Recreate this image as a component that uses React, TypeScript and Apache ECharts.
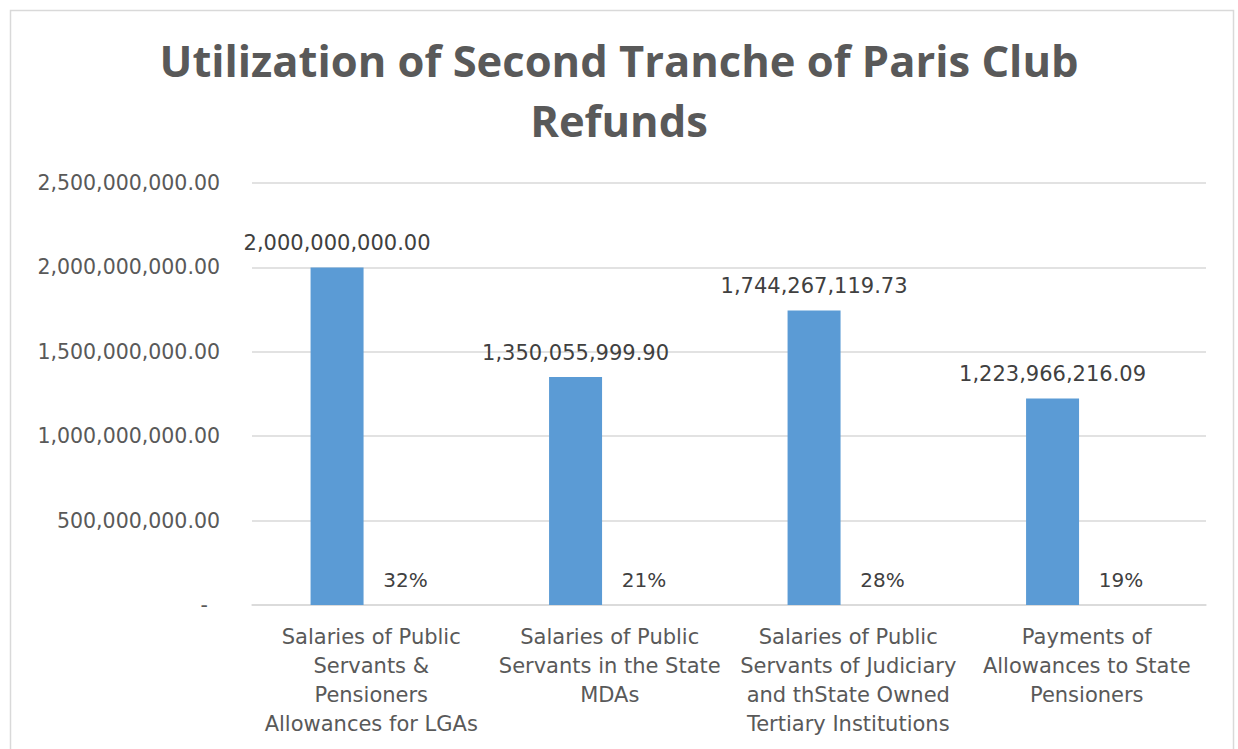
import React, { useEffect, useRef } from "react";
import * as echarts from "echarts";

const categories = [
  "Salaries of Public\nServants &\nPensioners\nAllowances for LGAs",
  "Salaries of Public\nServants in the State\nMDAs",
  "Salaries of Public\nServants of Judiciary\nand thState Owned\nTertiary Institutions",
  "Payments of\nAllowances to State\nPensioners",
];
const amounts = [2000000000.0, 1350055999.9, 1744267119.73, 1223966216.09];
const shares = [0.32, 0.21, 0.28, 0.19];
const titleText = "Utilization of Second Tranche of Paris Club\nRefunds";

const FONT = "DejaVu Sans";

function fmt(v: number): string {
  return v.toLocaleString("en-US", { minimumFractionDigits: 2, maximumFractionDigits: 2 });
}

export default function App() {
  const ref = useRef<HTMLDivElement>(null);
  useEffect(() => {
    document.body.style.margin = "0";
    const chart = echarts.init(ref.current!, null, { renderer: "svg" });
    chart.setOption({
      animation: false,
      backgroundColor: "#ffffff",
      title: {
        text: titleText,
        left: "center",
        top: 25,
        textStyle: {
          fontFamily: "Open Sans",
          fontWeight: "bold",
          fontSize: 43.5,
          lineHeight: 60,
          color: "#595959",
        },
      },
      graphic: [
        {
          type: "rect",
          shape: { x: 10.5, y: 10.5, width: 1223, height: 760 },
          style: { fill: "none", stroke: "#d9d9d9", lineWidth: 1.5 },
          silent: true,
        },
      ],
      grid: { left: 252, right: 32, top: 183, bottom: 144 },
      xAxis: {
        type: "category",
        data: categories,
        axisLine: { show: true, lineStyle: { color: "#d9d9d9", width: 1.5 } },
        axisTick: { show: false },
        axisLabel: {
          interval: 0,
          margin: 17,
          fontFamily: FONT,
          fontSize: 21,
          lineHeight: 29,
          color: "#595959",
        },
      },
      yAxis: {
        type: "value",
        min: 0,
        max: 2500000000,
        interval: 500000000,
        axisLine: { show: false },
        axisTick: { show: false },
        splitLine: { lineStyle: { color: "#d9d9d9", width: 1.5 } },
        axisLabel: {
          margin: 32,
          fontFamily: FONT,
          fontSize: 20.5,
          color: "#595959",
          formatter: (v: number) => (v === 0 ? "{z|-}" : fmt(v)),
          rich: { z: { padding: [0, 12, 0, 0], fontFamily: FONT, fontSize: 20.5, color: "#595959" } },
        },
      },
      series: [
        {
          type: "bar",
          data: amounts,
          barWidth: 53,
          barGap: "29%",
          itemStyle: { color: "#5b9bd5" },
          label: {
            show: true,
            position: "top",
            distance: 14,
            fontFamily: FONT,
            fontSize: 21,
            color: "#404040",
            formatter: (p: any) => fmt(p.value),
          },
        },
        {
          type: "bar",
          data: shares,
          barWidth: 53,
          itemStyle: { color: "#ed7d31" },
          label: {
            show: true,
            position: "top",
            distance: 15,
            fontFamily: FONT,
            fontSize: 20,
            color: "#404040",
            formatter: (p: any) => Math.round(p.value * 100) + "%",
          },
        },
      ],
    });
    return () => chart.dispose();
  }, []);
  return <div ref={ref} style={{ width: 1238, height: 749 }} />;
}
